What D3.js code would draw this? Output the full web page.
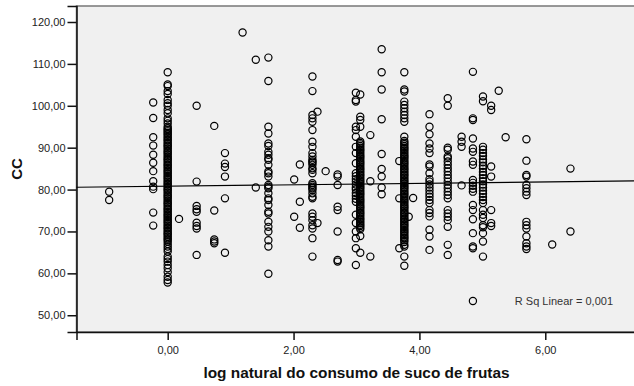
<!DOCTYPE html>
<html>
<head>
<meta charset="utf-8">
<script src="https://cdn.jsdelivr.net/npm/d3@7"></script>
<style>
  body { margin: 0; background: #fff; }
  text { font-family: "Liberation Sans", Arial, sans-serif; }
</style>
</head>
<body>
<svg id="chart" width="634" height="386"></svg>
<script>
// x position of each column of points (log natural do consumo)
const colX = [-0.93, -0.23, 0, 0.18, 0.46, 0.74, 0.91, 1.19, 1.40, 1.60,
  2.01, 2.10, 2.30, 2.38, 2.51, 2.70, 2.99, 3.06, 3.22, 3.40,
  3.68, 3.76, 3.83, 3.90, 4.16, 4.45, 4.67, 4.85, 5.01, 5.14,
  5.26, 5.37, 5.70, 6.11, 6.40];

// CC values per column
const colY = [
  [79.5, 77.5],
  [100.8, 97.1, 92.5, 90.5, 88.3, 86.4, 84.4, 82.0, 80.7, 80.1, 74.5, 71.4],
  [108.0, 105.1, 104.7, 103.5, 102.8, 101.4, 100.6, 100.0, 99.0, 98.2, 97.0, 96.4, 95.8, 95.0,
   94.6, 94.2, 93.9, 93.5, 93.2, 92.8, 92.4, 92.0, 91.7, 91.3, 90.9, 90.5, 90.2, 89.8, 89.4,
   89.0, 88.7, 88.3, 87.9, 87.5, 87.2, 86.8, 86.4, 86.0, 85.7, 85.3, 84.9, 84.5, 84.2, 83.8,
   83.4, 83.0, 82.7, 82.3, 81.9, 81.5, 81.2, 80.8, 80.4, 80.0, 79.7, 79.3, 78.9, 78.5, 78.2,
   77.8, 77.4, 77.0, 76.7, 76.3, 75.9, 75.5, 75.2, 74.8, 74.4, 74.0, 73.7, 73.3, 72.9, 72.5,
   72.2, 71.8, 71.4, 71.0, 70.7, 70.3, 69.9, 69.5, 69.2, 68.8, 68.4, 68.0, 67.6, 67.0, 66.4,
   65.8, 65.2, 64.0, 63.4, 62.8, 62.0, 61.2, 60.3, 59.2, 58.4, 57.8],
  [73.0],
  [100.0, 81.9, 76.1, 75.3, 74.7, 72.1, 71.3, 70.7, 64.4],
  [95.2, 75.0, 68.1, 67.6, 67.2],
  [88.7, 86.2, 85.4, 83.1, 77.9, 64.9],
  [117.5],
  [111.0, 80.5],
  [111.5, 105.9, 95.0, 93.4, 91.0, 90.4, 89.0, 88.3, 87.5, 87.1, 85.9, 84.3, 83.9, 83.1, 81.1,
   80.7, 80.3, 79.1, 77.9, 77.5, 76.3, 74.7, 74.3, 72.3, 71.1, 70.0, 67.9, 66.4, 59.9],
  [82.4, 73.5],
  [86.0, 77.1, 70.9],
  [107.0, 103.5, 97.8, 97.0, 96.2, 94.2, 91.4, 90.2, 88.7, 87.9, 87.1, 86.7, 86.4, 85.9, 85.1,
   84.7, 83.9, 81.5, 81.1, 80.7, 80.3, 79.9, 79.1, 78.3, 77.9, 74.3, 73.5, 72.7, 71.5, 70.7,
   68.4, 64.0],
  [98.6, 72.0],
  [84.4],
  [83.6, 83.1, 81.1, 75.9, 75.1, 70.0, 63.2, 62.8],
  [103.1, 101.4, 101.0, 95.0, 94.2, 92.6, 90.2, 88.7, 86.3, 83.9, 83.2, 82.5, 81.9, 81.2, 80.5,
   80.0, 79.2, 78.5, 77.8, 77.1, 74.0, 72.0, 70.0, 68.4, 66.0, 62.0],
  [102.7, 97.4, 96.6, 95.0, 91.5, 91.1, 90.8, 90.4, 90.0, 89.6, 89.3, 88.9, 88.5, 88.1, 87.8,
   87.4, 87.0, 86.6, 86.3, 85.9, 85.5, 85.1, 84.8, 84.4, 84.0, 83.6, 83.3, 82.9, 82.5, 82.1,
   81.8, 81.4, 81.0, 80.6, 80.3, 79.9, 79.5, 79.1, 78.8, 78.4, 78.0, 77.6, 77.3, 76.9, 76.5,
   76.1, 75.8, 75.4, 75.0, 74.6, 74.3, 73.9, 73.5, 73.1, 72.8, 72.4, 72.0, 71.6, 71.3, 70.9,
   70.5, 68.9, 64.9],
  [93.0, 82.0, 64.0],
  [113.5, 108.0, 103.9, 96.8, 88.5, 84.9, 83.1, 80.5, 78.9],
  [86.8, 77.9, 66.0],
  [108.0, 103.9, 103.4, 101.0, 100.2, 99.4, 98.6, 97.8, 97.0, 96.2, 92.6, 91.6, 91.2, 90.8,
   90.4, 90.0, 89.7, 89.3, 88.9, 88.5, 88.1, 87.8, 87.4, 87.0, 86.6, 86.3, 85.9, 85.5, 85.1,
   84.8, 84.4, 84.0, 83.6, 83.3, 82.9, 82.5, 82.1, 81.8, 81.4, 81.0, 80.6, 80.3, 79.9, 79.5,
   79.1, 78.8, 78.4, 78.0, 77.6, 77.3, 76.9, 76.5, 76.1, 75.8, 75.4, 75.0, 74.6, 74.3, 73.9,
   73.5, 73.1, 72.8, 72.4, 72.0, 71.6, 71.3, 70.9, 70.5, 70.1, 69.8, 69.4, 69.0, 68.6, 68.3,
   67.9, 67.5, 66.8, 66.4, 64.0, 61.8],
  [73.5],
  [78.0],
  [98.0, 95.0, 93.2, 91.0, 89.8, 88.7, 86.0, 85.5, 83.9, 82.5, 81.9, 81.2, 80.5, 79.8, 79.0,
   78.3, 77.5, 76.8, 75.1, 74.4, 73.6, 70.4, 68.8, 65.6],
  [101.8, 100.0, 90.0, 89.5, 87.9, 87.5, 86.7, 85.9, 85.1, 84.3, 83.5, 82.7, 81.9, 81.1, 80.3,
   79.5, 78.7, 77.9, 75.1, 74.3, 73.5, 72.7, 71.1, 66.8, 64.4],
  [92.6, 91.4, 90.2, 81.0],
  [108.1, 97.0, 96.6, 92.2, 89.8, 89.0, 86.7, 85.9, 82.3, 81.6, 80.9, 80.2, 79.5, 76.3, 75.1,
   72.9, 69.6, 66.4, 66.0, 53.4],
  [102.2, 101.1, 90.2, 89.5, 88.7, 88.0, 87.2, 86.5, 85.7, 85.0, 84.2, 83.5, 82.7, 82.0, 81.2,
   80.5, 79.7, 79.0, 78.2, 77.5, 76.8, 75.1, 74.0, 73.2, 71.5, 71.0, 69.6, 67.6, 64.0],
  [100.0, 99.0, 85.5, 83.1, 75.1, 72.0, 71.3],
  [103.6],
  [92.5],
  [92.0, 86.9, 83.5, 83.1, 81.1, 80.3, 79.5, 78.7, 72.3, 71.5, 70.7, 68.8, 67.2, 66.4, 65.8],
  [66.9],
  [85.0, 70.0]
];

const yTicks = [50, 60, 70, 80, 90, 100, 110, 120];
const xTicks = [0, 2, 4, 6];

// fit line
const fitIntercept = 80.8;
const fitSlope = 0.17;
const rSqLabel = "R Sq Linear = 0,001";

const points = [];
colX.forEach((xv, i) => colY[i].forEach(yv => points.push({x: xv, y: yv})));

const svg = d3.select("#chart");
const plot = {left: 76.5, right: 640, top: 6, bottom: 332};

const x = d3.scaleLinear().domain([-1.449, 7.505]).range([plot.left, plot.right]);
const y = d3.scaleLinear().domain([46.0, 123.82]).range([plot.bottom, plot.top]);
const fmt = d => d3.format(".2f")(d).replace(".", ",");

// plot background
svg.append("rect")
  .attr("x", plot.left).attr("y", plot.top)
  .attr("width", plot.right - plot.left).attr("height", plot.bottom - plot.top)
  .attr("fill", "#f0f0f0")
  .attr("stroke", "#777").attr("stroke-width", 1.5);

// axes
const yAxis = svg.append("g")
  .attr("transform", `translate(${plot.left},0)`)
  .call(d3.axisLeft(y).tickValues(yTicks).tickFormat(fmt).tickSize(9).tickPadding(2));
const xAxis = svg.append("g")
  .attr("transform", `translate(0,${plot.bottom})`)
  .call(d3.axisBottom(x).tickValues(xTicks).tickFormat(fmt).tickSize(8).tickPadding(6));

[yAxis, xAxis].forEach(a => {
  a.select(".domain").attr("stroke", "#111").attr("stroke-width", 1.5);
  a.selectAll(".tick line").attr("stroke", "#111").attr("stroke-width", 1.5);
  a.selectAll(".tick text")
    .attr("font-size", 11)
    .attr("font-family", "Liberation Sans, Arial, sans-serif")
    .attr("fill", "#222");
});

// points
svg.append("g").selectAll("circle")
  .data(points)
  .join("circle")
  .attr("cx", d => x(d.x))
  .attr("cy", d => y(d.y))
  .attr("r", 3.6)
  .attr("fill", "none")
  .attr("stroke", "#000")
  .attr("stroke-width", 1.2);

// linear fit
const xr = x.domain();
svg.append("line")
  .attr("x1", x(xr[0])).attr("y1", y(fitIntercept + fitSlope * xr[0]))
  .attr("x2", x(xr[1])).attr("y2", y(fitIntercept + fitSlope * xr[1]))
  .attr("stroke", "#000").attr("stroke-width", 1.2);

svg.append("text")
  .attr("x", 613).attr("y", 305)
  .attr("text-anchor", "end")
  .attr("font-size", 11)
  .attr("fill", "#333")
  .text(rSqLabel);

// axis titles
svg.append("text")
  .attr("x", 356.5).attr("y", 378)
  .attr("text-anchor", "middle")
  .attr("font-size", 15.4).attr("font-weight", "bold")
  .attr("fill", "#111")
  .text("log natural do consumo de suco de frutas");

svg.append("text")
  .attr("transform", `translate(21.5,${(plot.top + plot.bottom) / 2}) rotate(-90)`)
  .attr("text-anchor", "middle")
  .attr("font-size", 15).attr("font-weight", "bold")
  .attr("fill", "#111")
  .text("CC");
</script>
</body>
</html>
